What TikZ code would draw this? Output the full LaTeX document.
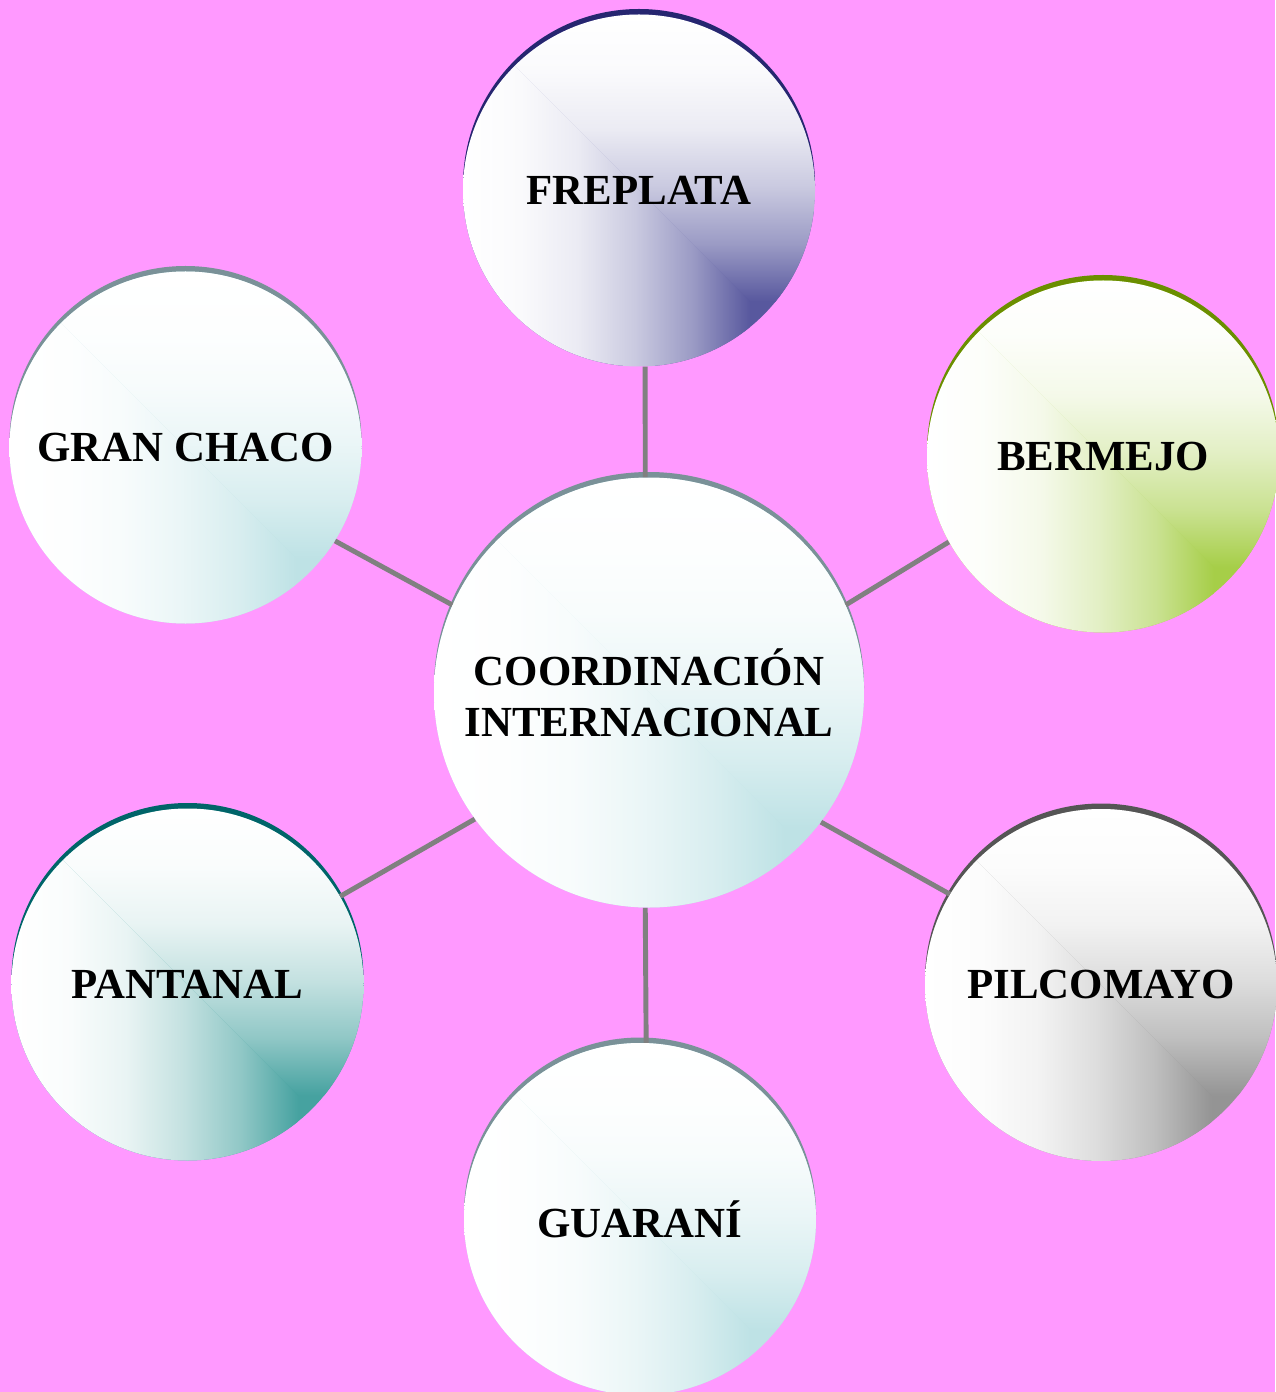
\documentclass[tikz,border=0pt]{standalone}
\usepackage{fontspec}
\setmainfont{Liberation Serif}
\definecolor{pinkbg}{RGB}{255,153,255}
\definecolor{linkgray}{RGB}{128,128,128}
\definecolor{frecol}{RGB}{88,88,158}
\definecolor{frerim}{RGB}{38,38,112}
\definecolor{bercol}{RGB}{166,206,72}
\definecolor{berrim}{RGB}{107,142,0}
\definecolor{cyancol}{RGB}{190,226,229}
\definecolor{cyanrim}{RGB}{122,145,152}
\definecolor{pancol}{RGB}{70,162,160}
\definecolor{panrim}{RGB}{0,100,105}
\definecolor{pilcol}{RGB}{148,148,148}
\definecolor{pilrim}{RGB}{85,85,85}
\pgfdeclarehorizontalshading[bubble]{bubblex}{100bp}{color(0bp)=(white); color(25bp)=(white); color(35bp)=(bubble!3!white); color(45bp)=(bubble!12!white); color(55bp)=(bubble!32!white); color(65bp)=(bubble!60!white); color(75bp)=(bubble); color(100bp)=(bubble)}
\pgfdeclareverticalshading[bubble]{bubbley}{100bp}{color(0bp)=(bubble); color(25bp)=(bubble); color(35bp)=(bubble!60!white); color(45bp)=(bubble!32!white); color(55bp)=(bubble!12!white); color(65bp)=(bubble!3!white); color(75bp)=(white); color(100bp)=(white)}
\tikzset{
  hub/.style={circle, inner sep=0pt, align=center, font=\bfseries\fontsize{24.4}{29}\selectfont},
  link/.style={draw=linkgray, line width=2.8pt}
}
% \bubble(name)(centre)(radius)[colour/rim]{text}
\def\bubble(#1)(#2)(#3)[#4/#5]#6{%
	\begin{scope}[shift={(#2)}]
		\fill[#5] (0, 0.11) circle (#3);
		\colorlet{bubble}{#4}
		\begin{scope}
			\clip (0, 0) circle (#3);
			\fill[#4] (-#3, -#3) rectangle (#3, #3);
			\begin{scope}
				\clip (-#3, #3) -- (#3, -#3) -- (-#3, -#3) -- cycle;
				\shade[shading=bubblex] (-#3, -#3) rectangle (0.63*#3, #3);
			\end{scope}
			\begin{scope}
				\clip (-#3, #3) -- (#3, #3) -- (#3, -#3) -- cycle;
				\shade[shading=bubbley] (-#3, -0.63*#3) rectangle (#3, #3);
			\end{scope}
		\end{scope}
		\node[hub, minimum size={2*#3cm}] (#1) at (0, 0) {#6};
	\end{scope}
}

\begin{document}
\begin{tikzpicture}
			%%%%% START %%%%%
			
			\fill[pinkbg] (0, 0) rectangle (25.5, -27.84);
			\useasboundingbox (0, 0) rectangle (25.5, -27.84);
			
			\bubble(coord)(12.98, -13.85)(4.3)[cyancol/cyanrim]{COORDINACIÓN\\INTERNACIONAL}
			
			\bubble(fre)(12.78, -3.81)(3.52)[frecol/frerim]{FREPLATA}
			\bubble(ber)(22.06, -9.13)(3.52)[bercol/berrim]{BERMEJO}
			\bubble(gran)(3.71, -8.95)(3.52)[cyancol/cyanrim]{GRAN CHACO}
			\bubble(pant)(3.75, -19.69)(3.52)[pancol/panrim]{PANTANAL}
			\bubble(pilc)(22.02, -19.70)(3.52)[pilcol/pilrim]{PILCOMAYO}
			\bubble(gua)(12.80, -24.38)(3.52)[cyancol/cyanrim]{GUARANÍ}
			
			\foreach \a/\n/\b in {91/fre/-88, 24.6/ber/209.7, -37.2/pilc/149.5, -91/gua/88, 216.4/pant/30.2, 156.8/gran/-32.4}
				\draw[link] (coord.\a) -- (\n.\b);
			
			%%%%% END %%%%%
\end{tikzpicture}
\end{document}
